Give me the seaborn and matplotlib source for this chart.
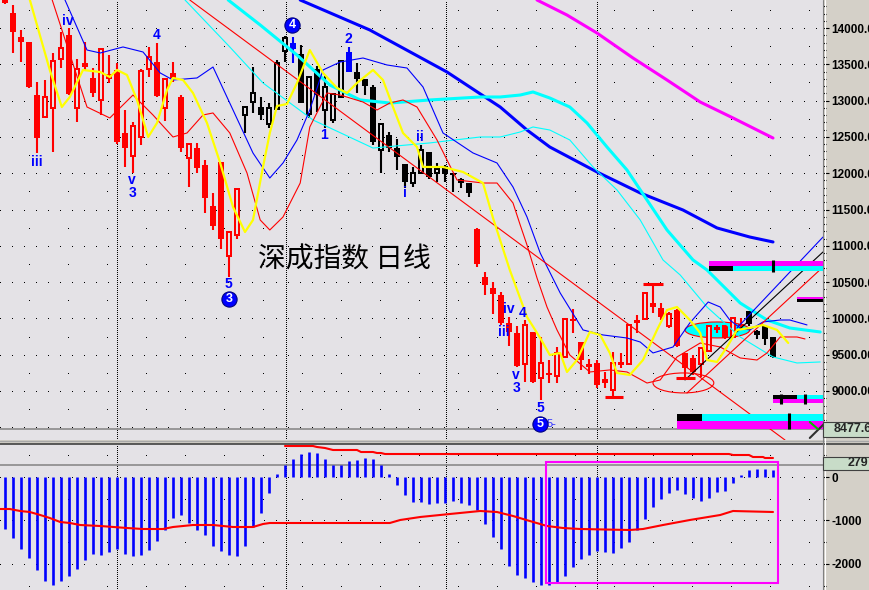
import matplotlib
matplotlib.use("Agg")
import matplotlib.pyplot as plt
from matplotlib.patches import Rectangle, Ellipse
from matplotlib.lines import Line2D
import seaborn as sns

sns.set_style("white")
plt.rcParams['font.family'] = ['Liberation Sans', 'DejaVu Sans']

# ---- daily candles (index 0..96) ----
opens = [14386, 14207, 13876, 13807, 13077, 12774, 12898, 13573, 13904, 12898,
         13518, 13311, 13008, 13366, 13422, 12554, 12237, 12499, 13435, 13532,
         12898, 13380, 13050, 12209, 12347, 12113, 11548, 12154, 10860, 11149,
         12802, 12981, 12912, 12678, 12884, 13683, 13793, 13642, 12816, 13435,
         12870, 12733, 13050, 13670, 13394, 13298, 13187, 12320, 12526, 12347,
         12127, 11865, 12003, 12292, 12003, 12099, 12003, 11920, 11865, 11232,
         10570, 10419, 10322, 9937, 9799, 9372, 9813, 9179, 9248, 9207,
         9468, 9992, 9675, 9372, 9386, 9165, 9014, 9400, 9372, 9978,
         9992, 10212, 10143, 9895, 10116, 9523, 9455, 9372, 9551, 9882,
         9909, 9744, 9923, 10102, 9827, 9895, 9744]
highs = [14420, 14317, 13972, 13807, 13256, 13284, 13656, 13945, 14000, 13573,
         13807, 13449, 13711, 13628, 13518, 12870, 12705, 13435, 13738, 13793,
         13298, 13532, 13077, 12402, 12416, 12182, 11727, 12154, 11190, 11782,
         12926, 13463, 13050, 12967, 13559, 13890, 13876, 13766, 13325, 13477,
         13339, 13091, 13559, 13738, 13518, 13298, 13215, 12692, 12568, 12471,
         12127, 12085, 12389, 12292, 12140, 12113, 12003, 11934, 11865, 11245,
         10639, 10501, 10364, 10019, 9895, 9978, 9813, 9744, 9427, 9606,
         9992, 10130, 9675, 9441, 9427, 9262, 9537, 9523, 9909, 10047,
         10364, 10488, 10212, 10088, 10130, 9523, 9496, 9592, 9895, 9909,
         9909, 10019, 10006, 10102, 9840, 9909, 9744]
lows = [14330, 13656, 13532, 13174, 12278, 12774, 12292, 13449, 13077, 12705,
        13422, 13050, 12802, 13242, 12402, 12085, 12003, 12389, 13325, 13050,
        12719, 13256, 12292, 11807, 12003, 11452, 11218, 10956, 10570, 11094,
        12554, 12829, 12733, 12623, 12884, 13532, 13518, 12967, 12760, 12843,
        12623, 12692, 13050, 13394, 13105, 13077, 12389, 12003, 12292, 12044,
        11796, 11807, 12003, 11920, 11879, 11879, 11741, 11796, 11672, 10708,
        10322, 10061, 9909, 9620, 9330, 9124, 9110, 8876, 9110, 9110,
        9455, 9799, 9289, 9234, 9041, 9041, 8917, 9317, 9358, 9799,
        9978, 10075, 9978, 9868, 9606, 9179, 9220, 9193, 9537, 9799,
        9717, 9744, 9840, 9895, 9717, 9634, 9455]
closes = [14345, 13945, 13807, 13187, 12485, 13050, 13545, 13725, 13091, 13435,
          13463, 13105, 13711, 13298, 12430, 12347, 12650, 13408, 13601, 13063,
          13298, 13311, 12347, 12402, 12072, 11658, 11273, 11094, 11190, 11782,
          12912, 13105, 12802, 12898, 13518, 13862, 13711, 12967, 13325, 13077,
          13187, 13091, 13545, 13394, 13298, 13201, 12430, 12678, 12347, 12223,
          11879, 12003, 12320, 11948, 12058, 11989, 11976, 11865, 11727, 10749,
          10460, 10336, 9937, 9813, 9344, 9909, 9124, 9386, 9220, 9523,
          9992, 9964, 9427, 9330, 9083, 9110, 9386, 9358, 9909, 9937,
          10350, 10157, 10019, 10061, 9620, 9317, 9262, 9592, 9895, 9840,
          9730, 10006, 9895, 9923, 9772, 9717, 9468]
# colour group of every candle: r = red, k = black, b = blue
groups = "r" * 30 + "k" * 6 + "b" + "k" * 6 + "b" + "k" * 15 + "r" * 34 + "k" * 4

# ---- indicator lines (candle index, price) ----
yellow_i = [3.1, 5.6, 7.1, 8.1, 9.75, 11.9, 13.1, 14, 15.25, 16.5, 17.9, 19, 20.25, 21, 22.25,
            23.5, 25.25, 26.9, 28.5, 30, 31, 32.25, 33.1, 34, 35.25, 36.5, 38.1, 39.75, 41.5,
            42.75, 44, 46, 47.25, 48.5, 49.75, 51.5, 52.25, 54.75, 57.25, 59.75, 61, 63.1,
            65.25, 66.9, 68.1, 69.4, 70.25, 71.5, 73.1, 74.4, 75.6, 76.5, 78.1, 79.75, 81.5,
            82.75, 84, 85.6, 86.9, 87.75, 89, 90.25, 91.5, 93.1, 94.75, 96.5, 97.9]
yellow_p = [14390, 13422, 12912, 13050, 13422, 13394, 13325, 13422, 13353, 13009, 12499, 12692,
            13146, 13312, 13284, 13105, 12692, 12141, 11535, 11190, 11356, 12086, 12554, 12926,
            12953, 13243, 13697, 13381, 13174, 13105, 13243, 13422, 13284, 12912, 12554, 12361,
            12086, 12086, 12017, 11865, 11383, 10667, 10020, 9730, 9496, 9524, 9262, 9427, 9813,
            9772, 9524, 9248, 9221, 9427, 9841, 10116, 10157, 9978, 9799, 9427, 9400, 9606,
            9841, 9868, 9909, 9841, 9662]

band_up_i = [7.5, 10.25, 11.9, 14.75, 17.25, 19.4, 21, 24, 26, 28.5, 31, 33.1, 34.75, 36.5,
             38.1, 39.75, 41.9, 44.75, 47.75, 50.25, 52.25, 54.75, 58.5, 61.5, 63.5, 65.25,
             66.9, 69.4, 72.25, 74.75, 77.75, 79.4, 81, 83.5, 85.6, 87.9, 89.4, 90.6, 91.9,
             93.1, 94.75, 96.9, 98.1, 100.25]
band_up_p = [14386, 13697, 13656, 13739, 13670, 13381, 13284, 13312, 13463, 12871, 12278,
             11934, 12141, 12458, 12871, 13422, 13532, 13587, 13491, 13449, 13188, 12554,
             12279, 12141, 11810, 11397, 10901, 10350, 9841, 9772, 9730, 9675, 9524, 9606,
             9937, 10226, 10157, 9978, 9868, 9841, 9951, 9978, 9978, 9910]

band_lo_i = [5.9, 10.25, 13.1, 16, 18.5, 21, 22.75, 24.75, 26, 28.1, 30.25, 31.9, 33.1, 34.75,
             36.9, 38.1, 40.25, 41.9, 44.75, 46.5, 48.1, 49.75, 51.5, 54, 56.5, 59.75, 61.5,
             63.5, 64.4, 65.25, 66.5, 67.75, 69, 70.6, 73.1, 75.6, 77.75, 80.25, 81.9, 84,
             86.9, 89.4, 91.9, 94, 95.25, 96.9, 99, 100]
band_lo_p = [14386, 12912, 12761, 13077, 12802, 12499, 12554, 12802, 12830, 12554, 12003,
             11356, 11218, 11397, 11865, 12637, 13105, 13077, 12981, 12871, 12967, 13009,
             12912, 12458, 11907, 11865, 11865, 11590, 11287, 11011, 10557, 10157, 9841,
             9496, 9262, 9290, 9262, 9110, 9152, 9469, 9661, 9606, 9455, 9427, 9524, 9744,
             9744, 9717]

cyan_thick_i = [27.9, 31.9, 36.5, 40.6, 44.4, 48.1, 53.1, 59.4, 61.9, 64.4, 66, 68.1, 70.6,
                72.75, 75.25, 77.75, 80.25, 82.75, 86, 87.75, 91.9, 95.25, 98.1, 101.9]
cyan_thick_p = [14386, 14042, 13628, 13215, 13009, 12967, 13009, 13050, 13050, 13077, 13119,
                13036, 12912, 12692, 12361, 12044, 11631, 11218, 10805, 10667, 10212, 9978,
                9868, 9813]

cyan_thin_i = [22.5, 28.1, 32.25, 38.5, 46, 53.1, 59.4, 61.9, 64.4, 66, 68.1, 70.6, 73.5,
               76.5, 79.4, 82.25, 84.4, 87.75, 91.9, 96, 99, 101.9]
cyan_thin_p = [14386, 13739, 13243, 12733, 12347, 12417, 12499, 12499, 12568, 12637, 12595,
               12458, 12086, 11769, 11356, 10805, 10598, 10157, 9744, 9469, 9386, 9400]

blue_thick_i = [36.9, 45.6, 55.25, 61.9, 65.25, 68.1, 74, 79.4, 84.75, 89, 93.1, 96]
blue_thick_p = [14386, 13973, 13394, 12912, 12595, 12361, 12017, 11728, 11493, 11246, 11121, 11053]

magenta_i = [66.5, 70.25, 74, 78.5, 82.75, 86.9, 91, 96]
magenta_p = [14386, 14179, 13931, 13587, 13284, 12981, 12761, 12485]

trend_i = [23.1, 97.5]
trend_p = [14386, 8325]
chan_blue_i, chan_blue_p = [91.5, 102.25], [9868, 11121]
chan_black_i, chan_black_p = [85, 102.25], [9152, 10915]
chan_red_i, chan_red_p = [85.25, 102.25], [8973, 10708]

# short red marker bars (from, to, price)
marks = [(75, 77.25, 8917), (79.75, 82.25, 10474), (83.9, 86.25, 9179)]

# wave counts
wave_text = ['iv', 'iii', '4', 'v', '3', '5', '2', '1', 'ii', 'i', 'iv', 'iii', '4', 'v', '3', '5']
wave_i = [7.9, 4.0, 18.9, 15.9, 15.9, 27.9, 42.9, 39.9, 51.9, 50.0, 63.0, 62.4, 64.75, 63.9, 63.9, 66.9]
wave_p = [14097, 12155, 13904, 11907, 11728, 10474, 13849, 12526, 12499, 11728, 10130, 9813,
          10075, 9221, 9042, 8766]
circ_text = ['3', '4', '5']
circ_i = [28.0, 35.9, 66.9]
circ_p = [10268, 14042, 8546]

# colour blocks at the right edge (from, to, low, high, colour)
blocks = [(88.0, 102.25, 10722, 10791, '#ff00ff'), (88.0, 91.0, 10653, 10722, '#000000'),
          (91.0, 102.25, 10653, 10722, '#00ffff'), (99.0, 102.25, 10267, 10295, '#ff00ff'),
          (99.0, 102.25, 10226, 10267, '#000000'), (96.0, 99.0, 8890, 8945, '#000000'),
          (99.0, 102.25, 8890, 8945, '#00ffff'), (96.0, 102.25, 8835, 8890, '#ff00ff'),
          (84.0, 87.1, 8587, 8684, '#000000'), (87.1, 102.25, 8587, 8684, '#00ffff'),
          (84.0, 102.25, 8477, 8587, '#ff00ff')]
block_ticks = [(96, 10640, 10805), (97.0, 8820, 8960), (100.0, 8820, 8960), (98.0, 8477, 8698)]

last_price = 8477.6

# ---- MACD panel ----
macd_hist = [-1196, -1403, -1656, -1863, -2139, -2392, -2484, -2392, -2277, -2116,
             -1909, -1771, -1794, -1725, -1656, -1771, -1817, -1794, -1679, -1472,
             -1219, -943, -874, -1058, -1219, -1334, -1587, -1702, -1794, -1817,
             -1587, -1150, -828, -368, 69, 276, 414, 529, 575, 552,
             414, 276, 276, 368, 391, 437, 414, 276, 69, -184,
             -414, -575, -575, -621, -598, -598, -552, -598, -644, -759,
             -1081, -1380, -1656, -2047, -2254, -2323, -2415, -2484, -2484, -2415,
             -2277, -2070, -1886, -1794, -1702, -1725, -1748, -1633, -1495, -1219,
             -966, -690, -506, -368, -299, -391, -483, -552, -483, -345,
             -322, -138, 46, 161, 184, 184, 161]
signal_i = [-0.6, 0.6, 1.9, 3.1, 4.4, 5.6, 6.9, 8.1, 9.4, 11.9, 15.25, 17.25, 19.75, 21, 23.5,
            26, 28.5, 31, 32.25, 33.1, 48.1, 49.4, 51.9, 55.6, 59.4, 61.5, 63.5, 65.6, 67.75,
            69.75, 71.9, 78.1, 79.75, 82.25, 85.6, 89.4, 91, 96]
signal_v = [-736, -736, -782, -805, -874, -943, -1035, -1058, -1104, -1127, -1173, -1196, -1196,
            -1150, -1104, -1104, -1150, -1150, -1081, -1058, -1058, -989, -920, -851, -782, -805,
            -897, -1012, -1127, -1173, -1196, -1219, -1196, -1104, -989, -874, -782, -805]
upper_i = [35, 38.5, 39, 40, 41, 44, 44.5, 46, 46.5, 47, 47.5, 90.5, 91, 93, 93.5, 94.75, 95, 96]
upper_v = [713, 713, 690, 667, 621, 621, 575, 575, 552, 552, 529, 529, 506, 506, 460, 460, 437, 437]
ref_level = 279

BG = '#e4e2e6'
PANEL = '#d4d0c8'
W, H = 870, 590
RED, BLUE, CYAN, MAG = '#ff0000', '#0000ff', '#00ffff', '#ff00ff'

fig = plt.figure(figsize=(W / 100, H / 100), dpi=100, facecolor=PANEL)
ax = fig.add_axes([0, 1 - 440 / H, 823 / W, 440 / H])
ax2 = fig.add_axes([0, 0, 823 / W, 146 / H])
for a in (ax, ax2):
    a.set_facecolor(BG)
    a.set_xlim(-0.625, 102.25)
    a.set_xticks([])
    for s in a.spines.values():
        s.set_visible(False)
    a.yaxis.tick_right()
    a.tick_params(axis='y', which='both', right=True, left=False, labelright=True,
                  labelleft=False, direction='out', width=0.8, colors='black')
    a.tick_params(axis='y', which='major', length=4.5, labelsize=8.5, pad=1.5)
    a.tick_params(axis='y', which='minor', length=2.2)
ax.set_ylim(8325, 14386)
ax2.set_ylim(-2599, 759)

ax.set_yticks(range(9000, 14001, 500))
ax.set_yticklabels([f"{v:.2f}" for v in range(9000, 14001, 500)], fontweight='bold')
ax.set_yticks(range(8400, 14400, 100), minor=True)
ax2.set_yticks([0, -1000, -2000])
ax2.set_yticklabels(['0', '-1000', '-2000'], fontweight='bold')
ax2.set_yticks([500, -500, -1500, -2500], minor=True)


def dots(a, y, gap, offset=0):
    a.axhline(y, color='black', lw=0.72, ls=(offset, (1, gap)), antialiased=False, zorder=0.5)


for p in range(8500, 14001, 500):
    dots(ax, p, 11)
for p in range(8750, 14251, 500):
    dots(ax, p, 39, 10)
for v in (0, -1000, -2000):
    dots(ax2, v, 11)
for v in (500, -500, -1500, -2500):
    dots(ax2, v, 39, 10)
for a in (ax, ax2):
    for xv in (14.0, 35.1, 55.1, 74.0):
        a.axvline(xv, color='black', lw=0.72, ls=(0, (1, 2)), antialiased=False, zorder=0.5)

ax.axhline(last_price, color='#8a8a8a', lw=1.2, zorder=1)

# ellipse marks under the candles
ax.add_patch(Ellipse((89.05, 9841), 8.1, 220, facecolor=CYAN, edgecolor=RED, lw=0.8, zorder=2))
ax.add_patch(Ellipse((84.8, 9111), 7.6, 275, fill=False, edgecolor=RED, lw=0.8, zorder=5))

# candles
colours = {'r': RED, 'k': 'black', 'b': BLUE}
for i, (o, h, l, c, g) in enumerate(zip(opens, highs, lows, closes, groups)):
    col = colours[g]
    ax.vlines(i, l, h, color=col, lw=1.5, zorder=3)
    lo, hi = min(o, c), max(o, c)
    hgt = max(hi - lo, 22)
    if c > o:
        ax.bar(i, hgt, bottom=lo, width=0.48, facecolor=BG, edgecolor=col, lw=1.44, zorder=4)
    else:
        ax.bar(i, hgt, bottom=lo, width=0.72, color=col, lw=0, zorder=4)


def line(a, xs, ys, color, lw, z=5):
    sns.lineplot(x=xs, y=ys, ax=a, color=color, lw=lw, sort=False, estimator=None,
                 legend=False, zorder=z)


line(ax, magenta_i, magenta_p, MAG, 2.2)
line(ax, blue_thick_i, blue_thick_p, BLUE, 2.2)
line(ax, cyan_thick_i, cyan_thick_p, CYAN, 2.2)
line(ax, cyan_thin_i, cyan_thin_p, CYAN, 0.8)
line(ax, band_up_i, band_up_p, BLUE, 0.8)
line(ax, band_lo_i, band_lo_p, RED, 0.8)
line(ax, trend_i, trend_p, RED, 0.8)
line(ax, chan_blue_i, chan_blue_p, BLUE, 0.8)
line(ax, chan_black_i, chan_black_p, 'black', 0.8)
line(ax, chan_red_i, chan_red_p, RED, 0.8)
line(ax, yellow_i, yellow_p, '#ffff00', 1.6)
for x0, x1, p in marks:
    ax.hlines(p, x0, x1, color=RED, lw=2.2, zorder=6)

for x0, x1, p0, p1, c in blocks:
    ax.add_patch(Rectangle((x0, p0), x1 - x0, p1 - p0, color=c, lw=0, zorder=6))
for xv, p0, p1 in block_ticks:
    ax.vlines(xv, p0, p1, color='black', lw=2.2, zorder=7)
ax.plot([100.6, 102.5], [8353, 8560], color='#303030', lw=1.5, zorder=7)
ax.plot([100.6, 101.6], [8573, 8477], color='#00c000', lw=1.5, zorder=7)

for t, xv, p in zip(wave_text, wave_i, wave_p):
    ax.text(xv, p, t, color=BLUE, fontsize=10, fontweight='bold', ha='center', va='center', zorder=8)
ax.text(68.3, 8546, '5-', color='#3030ff', fontsize=8, ha='center', va='center', zorder=7)
ax.scatter(circ_i, circ_p, s=120, color=BLUE, edgecolors='#000080', linewidths=0.8, zorder=8)
for t, xv, p in zip(circ_text, circ_i, circ_p):
    ax.text(xv, p, t, color='white', fontsize=9, fontweight='bold', ha='center', va='center', zorder=9)

ax.text(42.4, 10812, '深成指数 日线', family=['Noto Sans CJK SC', 'DejaVu Sans'],
        fontsize=20, fontweight='normal', color='black', ha='center', va='center', zorder=8)

# MACD panel
ax2.vlines(range(len(macd_hist)), 0, macd_hist, color=BLUE, lw=1.9, zorder=3)
ax2.axhline(ref_level, color='#8a8a8a', lw=1.2, zorder=2)
line(ax2, signal_i, signal_v, RED, 1.5)
line(ax2, upper_i, upper_v, RED, 1.5)
ax2.add_patch(Rectangle((67.6, -2438), 29.0, 2783, fill=False, edgecolor=MAG, lw=1.5, zorder=6))

for a in (ax, ax2):
    a.set_xlabel('')
    a.set_ylabel('')

# panel separators and price-scale frame
fig.add_artist(Line2D([0, 1], [1 - 441 / H] * 2, color='#a8a8a8', lw=1.0, transform=fig.transFigure))
fig.add_artist(Line2D([0, 1], [1 - 443.5 / H] * 2, color='#404040', lw=1.2, transform=fig.transFigure))
fig.add_artist(Line2D([823.5 / W] * 2, [0, 1], color='#808080', lw=0.8, transform=fig.transFigure))
fig.add_artist(Line2D([825 / W] * 2, [0, 1], color='white', lw=0.8, transform=fig.transFigure))

# value boxes on the scale
fig.add_artist(Rectangle((823 / W, 1 - 437 / H), 50 / W, 15 / H, transform=fig.transFigure,
                         facecolor='#c8dcc8', edgecolor='#404040', lw=0.8, zorder=10))
fig.text(834 / W, 1 - 429.5 / H, f"{last_price:.1f}", ha='left', va='center', fontsize=9,
         fontweight='bold', zorder=11)
fig.add_artist(Rectangle((823 / W, 1 - 470 / H), 50 / W, 13 / H, transform=fig.transFigure,
                         facecolor='#c8dcc8', edgecolor='#404040', lw=0.8, zorder=10))
fig.text(868 / W, 1 - 463.5 / H, str(ref_level), ha='right', va='center', fontsize=9,
         fontweight='bold', zorder=11)

fig.savefig('out.png', dpi=100, facecolor=fig.get_facecolor())
